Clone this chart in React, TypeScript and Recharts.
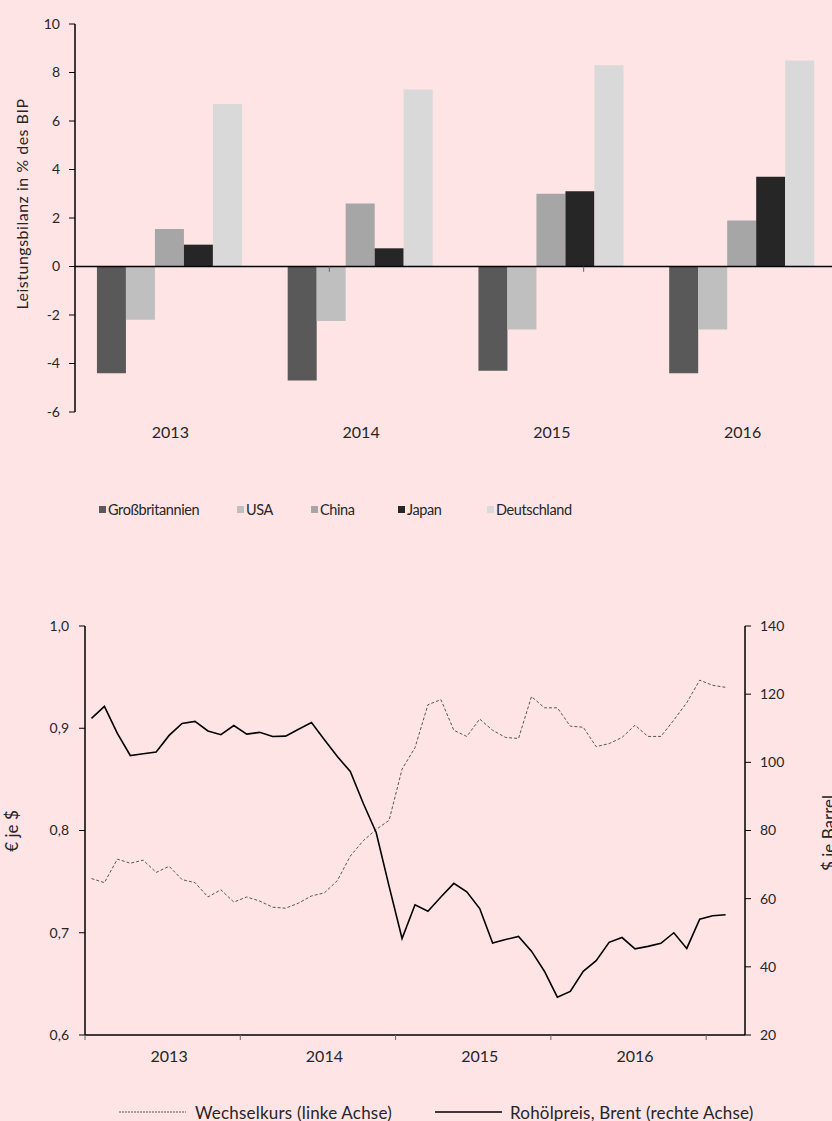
import React from 'react';
import { BarChart, Bar, XAxis, YAxis, ReferenceLine, LineChart, Line } from 'recharts';

const FONT = 'Lato, "Noto Sans", sans-serif';
const BG = '#fee4e5';
const TXT = '#262626';

// ---------- Top chart data ----------
const years = ['2013', '2014', '2015', '2016'];
const grossbritannien = [-4.4, -4.7, -4.3, -4.4];
const usa = [-2.2, -2.25, -2.6, -2.6];
const china = [1.55, 2.6, 3.0, 1.9];
const japan = [0.9, 0.75, 3.1, 3.7];
const deutschland = [6.7, 7.3, 8.3, 8.5];
const barTicks = [-6, -4, -2, 0, 2, 4, 6, 8, 10];

const barSeries = [
  { key: 'gb', name: 'Großbritannien', values: grossbritannien, color: '#595959' },
  { key: 'usa', name: 'USA', values: usa, color: '#bfbfbf' },
  { key: 'cn', name: 'China', values: china, color: '#a6a6a6' },
  { key: 'jp', name: 'Japan', values: japan, color: '#262626' },
  { key: 'de', name: 'Deutschland', values: deutschland, color: '#d9d9d9' },
];

const barData = years.map((y, i) => {
  const row: any = { year: y };
  barSeries.forEach((s) => (row[s.key] = s.values[i]));
  return row;
});

// ---------- Bottom chart data (monthly, Jan 2013 - Feb 2017) ----------
const wechselkurs = [
  0.753, 0.749, 0.772, 0.768, 0.771, 0.759, 0.765, 0.752, 0.749, 0.735, 0.742, 0.730,
  0.735, 0.731, 0.725, 0.724, 0.729, 0.736, 0.739, 0.751, 0.775, 0.790, 0.801, 0.810,
  0.860, 0.881, 0.923, 0.928, 0.898, 0.892, 0.909, 0.898, 0.891, 0.890, 0.931, 0.920,
  0.920, 0.902, 0.901, 0.882, 0.885, 0.891, 0.903, 0.892, 0.892, 0.908, 0.925, 0.947,
  0.942, 0.940,
];
const brent = [
  112.9, 116.4, 108.5, 102.0, 102.5, 103.0, 107.9, 111.4, 112.0, 109.2, 108.1, 110.8,
  108.3, 108.8, 107.6, 107.7, 109.7, 111.7, 106.6, 101.7, 97.3, 88.0, 79.4, 63.6,
  48.3, 58.2, 56.3, 60.5, 64.5, 62.0, 57.1, 47.0, 48.0, 48.9, 44.6, 38.7,
  31.1, 32.8, 38.7, 41.8, 47.2, 48.6, 45.3, 46.0, 46.9, 50.0, 45.4, 54.0,
  55.0, 55.3,
];
const yearLabels = ['2013', '2014', '2015', '2016'];
const leftTicks = [0.6, 0.7, 0.8, 0.9, 1.0];
const rightTicks = [20, 40, 60, 80, 100, 120, 140];

// month index (0 = Jan 2013); points sit mid-month
const lineData = wechselkurs.map((w, i) => ({ m: i + 0.5, wk: w, brent: brent[i] }));
const xTicks: number[] = [];
yearLabels.forEach((_, i) => {
  xTicks.push(i * 12);
  xTicks.push(i * 12 + 6.5);
});
xTicks.push(48);

const tickStyle = { fill: TXT, fontSize: 14, fontFamily: FONT };
const yearTickStyle = { fill: TXT, fontSize: 16, fontFamily: FONT };

const XTick = (props: any) => {
  const { x, y, payload } = props;
  const v = payload.value as number;
  if (v % 12 === 0) {
    return <line x1={x} y1={y} x2={x} y2={y + 5} stroke="#666" strokeWidth={1} />;
  }
  return (
    <text x={x} y={y + 21} dy="0.35em" textAnchor="middle" fill={TXT} fontSize={16} fontFamily={FONT}>
      {yearLabels[Math.floor(v / 12)]}
    </text>
  );
};

const RotLabel = ({ text, cx, cy, size = 16, spacing = 0 }: { text: string; cx: number; cy: number; size?: number; spacing?: number }) => (
  <div
    style={{
      position: 'absolute',
      left: cx,
      top: cy,
      transform: 'translate(-50%, -50%) rotate(-90deg)',
      whiteSpace: 'nowrap',
      fontFamily: FONT,
      fontSize: size,
      letterSpacing: spacing,
      color: TXT,
      lineHeight: '18px',
    }}
  >
    {text}
  </div>
);

const legendTopLefts = [99, 237, 311, 398, 487];

export default function App() {
  return (
    <div
      style={{
        position: 'absolute',
        left: 0,
        top: 0,
        width: 832,
        height: 1121,
        overflow: 'hidden',
        background: BG,
        fontFamily: FONT,
      }}
    >
      {/* Top chart */}
      <div style={{ position: 'absolute', left: 0, top: 0 }}>
        <BarChart
          width={840}
          height={450}
          data={barData}
          margin={{ top: 24, right: 2, bottom: 0, left: 0 }}
          barCategoryGap="11.5%"
          barGap={0}
        >
          <XAxis
            dataKey="year"
            axisLine={false}
            tickLine={false}
            tickSize={0}
            tickMargin={15}
            height={38}
            interval={0}
            tick={yearTickStyle}
          />
          <XAxis xAxisId="n" type="number" domain={[0, 4]} hide />
          <YAxis
            width={75}
            domain={[-6, 10]}
            ticks={barTicks}
            interval={0}
            axisLine={{ stroke: '#000', strokeWidth: 1.5 }}
            tickLine={{ stroke: '#000' }}
            tickSize={6}
            tickMargin={9}
            tick={tickStyle}
          />
          {barSeries.map((s) => (
            <Bar key={s.key} dataKey={s.key} name={s.name} fill={s.color} isAnimationActive={false} />
          ))}
          <ReferenceLine y={0} stroke="#000" strokeWidth={1.5} />
          {[1, 2, 3].map((b) => (
            <ReferenceLine
              key={b}
              xAxisId="n"
              segment={[
                { x: b, y: 0 },
                { x: b, y: -0.22 },
              ]}
              stroke="#666"
            />
          ))}
        </BarChart>
      </div>
      <RotLabel text="Leistungsbilanz in % des BIP" cx={22} cy={204} size={16} spacing={0.5} />

      {/* Top legend */}
      {barSeries.map((s, i) => (
        <div
          key={s.key}
          style={{
            position: 'absolute',
            left: legendTopLefts[i],
            top: 500,
            height: 18,
            display: 'flex',
            alignItems: 'center',
            whiteSpace: 'nowrap',
            fontSize: 14.5,
            letterSpacing: -0.4,
            color: TXT,
          }}
        >
          <span style={{ display: 'inline-block', width: 7, height: 7, background: s.color, marginRight: 2 }} />
          <span>{s.name}</span>
        </div>
      ))}

      {/* Bottom chart */}
      <div style={{ position: 'absolute', left: 0, top: 600 }}>
        <LineChart width={832} height={480} data={lineData} margin={{ top: 26, right: 0, bottom: 0, left: 0 }}>
          <XAxis
            dataKey="m"
            type="number"
            domain={[0, 51]}
            ticks={xTicks}
            interval={0}
            tickSize={0}
            tickMargin={0}
            tickLine={false}
            axisLine={{ stroke: '#000', strokeWidth: 1.5 }}
            tick={<XTick />}
            height={45}
            allowDataOverflow
          />
          <YAxis
            yAxisId="l"
            width={85}
            domain={[0.6, 1.0]}
            ticks={leftTicks}
            interval={0}
            tickFormatter={(v: number) => v.toFixed(1).replace('.', ',')}
            axisLine={{ stroke: '#000', strokeWidth: 1.5 }}
            tickLine={{ stroke: '#000' }}
            tickSize={6}
            tickMargin={10}
            tick={tickStyle}
          />
          <YAxis
            yAxisId="r"
            orientation="right"
            width={87}
            domain={[20, 140]}
            ticks={rightTicks}
            interval={0}
            axisLine={{ stroke: '#000', strokeWidth: 1.5 }}
            tickLine={{ stroke: '#000' }}
            tickSize={6}
            tickMargin={9}
            tick={tickStyle}
          />
          <Line
            yAxisId="l"
            dataKey="wk"
            name="Wechselkurs (linke Achse)"
            stroke="#555"
            strokeWidth={1}
            strokeDasharray="3 2"
            dot={false}
            isAnimationActive={false}
          />
          <Line
            yAxisId="r"
            dataKey="brent"
            name="Rohölpreis, Brent (rechte Achse)"
            stroke="#000"
            strokeWidth={1.6}
            dot={false}
            isAnimationActive={false}
          />
        </LineChart>
      </div>
      <RotLabel text="€ je $" cx={12} cy={831} size={17} />
      <RotLabel text="$ je Barrel" cx={829} cy={833} size={17} />

      {/* Bottom legend */}
      <div style={{ position: 'absolute', left: 119, top: 1102, height: 20, display: 'flex', alignItems: 'center', whiteSpace: 'nowrap', fontSize: 17, letterSpacing: 0.2, color: TXT }}>
        <svg width={67} height={4} style={{ marginRight: 9 }}>
          <line x1={0} y1={2} x2={67} y2={2} stroke="#555" strokeWidth={1} strokeDasharray="2 1" />
        </svg>
        <span>Wechselkurs (linke Achse)</span>
      </div>
      <div style={{ position: 'absolute', left: 435, top: 1102, height: 20, display: 'flex', alignItems: 'center', whiteSpace: 'nowrap', fontSize: 17, letterSpacing: 0.2, color: TXT }}>
        <svg width={67} height={4} style={{ marginRight: 8 }}>
          <line x1={0} y1={2} x2={67} y2={2} stroke="#000" strokeWidth={1.6} />
        </svg>
        <span>Rohölpreis, Brent (rechte Achse)</span>
      </div>
    </div>
  );
}
